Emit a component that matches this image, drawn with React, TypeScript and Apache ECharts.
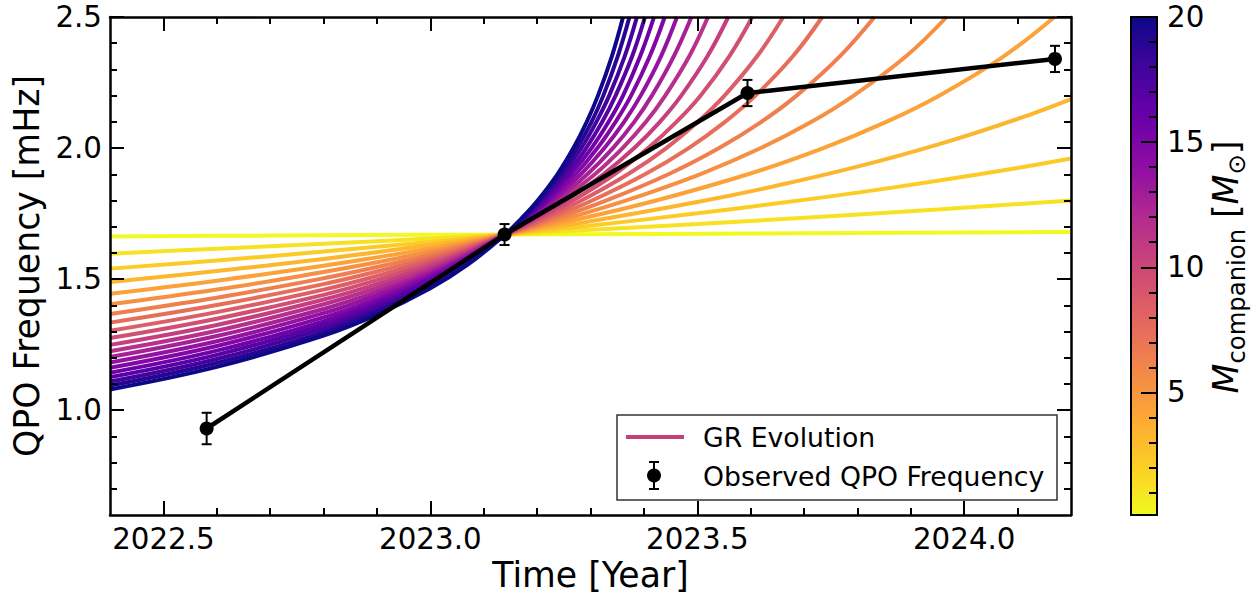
import React, { useEffect, useRef } from "react";
import * as echarts from "echarts";

// ---------------- DATA ----------------
// Observed QPO frequency
const obsTime = [2022.581, 2023.139, 2023.594, 2024.17];
const obsFreq = [0.93, 1.67, 2.21, 2.34];
const obsErr = [0.06, 0.04, 0.05, 0.05];

// Companion masses of the GR evolution curves [M_sun]
const companionMass = [
  0.1, 1.15, 2.19, 3.24, 4.29, 5.34, 6.38, 7.43, 8.48, 9.53, 10.57, 11.62,
  12.67, 13.72, 14.76, 15.81, 16.86, 17.91, 18.95, 20,
];

// GR evolution curves, [time, frequency] (one list per mass)
const grCurves: number[][][] = [
  [[2022.4, 1.663], [2022.6, 1.665], [2022.8, 1.667], [2023.0, 1.669], [2023.14, 1.67], [2023.7, 1.675], [2024.2, 1.68]],
  [[2022.4, 1.597], [2022.6, 1.616], [2022.8, 1.635], [2023.0, 1.655], [2023.14, 1.67], [2023.3, 1.688], [2023.5, 1.71], [2023.7, 1.734], [2023.95, 1.766], [2024.2, 1.8]],
  [[2022.4, 1.54], [2022.6, 1.571], [2022.8, 1.605], [2023.0, 1.642], [2023.14, 1.67], [2023.3, 1.704], [2023.5, 1.751], [2023.65, 1.789], [2023.8, 1.83], [2023.95, 1.875], [2024.1, 1.924], [2024.2, 1.96]],
  [[2022.4, 1.489], [2022.6, 1.531], [2022.8, 1.577], [2023.0, 1.63], [2023.14, 1.67], [2023.3, 1.721], [2023.5, 1.794], [2023.65, 1.857], [2023.8, 1.929], [2023.95, 2.013], [2024.1, 2.111], [2024.2, 2.187]],
  [[2022.4, 1.444], [2022.6, 1.494], [2022.8, 1.551], [2022.9, 1.583], [2023.0, 1.617], [2023.07, 1.643], [2023.14, 1.67], [2023.28, 1.73], [2023.423, 1.8], [2023.595, 1.9], [2023.736, 2.0], [2023.854, 2.1], [2023.953, 2.2], [2024.074, 2.35], [2024.169, 2.5]],
  [[2022.4, 1.404], [2022.6, 1.46], [2022.8, 1.527], [2022.9, 1.564], [2023.0, 1.605], [2023.07, 1.636], [2023.14, 1.67], [2023.253, 1.73], [2023.367, 1.8], [2023.505, 1.9], [2023.619, 2.0], [2023.714, 2.1], [2023.793, 2.2], [2023.891, 2.35], [2023.967, 2.5]],
  [[2022.4, 1.367], [2022.6, 1.429], [2022.8, 1.503], [2022.9, 1.546], [2023.0, 1.593], [2023.07, 1.63], [2023.14, 1.67], [2023.234, 1.73], [2023.33, 1.8], [2023.446, 1.9], [2023.541, 2.0], [2023.62, 2.1], [2023.686, 2.2], [2023.767, 2.35], [2023.832, 2.5]],
  [[2022.4, 1.334], [2022.6, 1.401], [2022.8, 1.481], [2022.9, 1.529], [2023.0, 1.582], [2023.07, 1.624], [2023.14, 1.67], [2023.221, 1.73], [2023.303, 1.8], [2023.402, 1.9], [2023.484, 2.0], [2023.552, 2.1], [2023.609, 2.2], [2023.679, 2.35], [2023.734, 2.5]],
  [[2022.4, 1.303], [2022.6, 1.374], [2022.8, 1.46], [2022.9, 1.512], [2023.0, 1.571], [2023.07, 1.618], [2023.14, 1.67], [2023.211, 1.73], [2023.283, 1.8], [2023.37, 1.9], [2023.442, 2.0], [2023.501, 2.1], [2023.551, 2.2], [2023.612, 2.35], [2023.661, 2.5]],
  [[2022.4, 1.275], [2022.6, 1.349], [2022.8, 1.44], [2022.9, 1.496], [2023.0, 1.56], [2023.07, 1.612], [2023.14, 1.67], [2023.203, 1.73], [2023.267, 1.8], [2023.345, 1.9], [2023.408, 2.0], [2023.461, 2.1], [2023.506, 2.2], [2023.56, 2.35], [2023.603, 2.5]],
  [[2022.4, 1.249], [2022.6, 1.325], [2022.8, 1.422], [2022.9, 1.481], [2023.0, 1.55], [2023.07, 1.606], [2023.14, 1.67], [2023.197, 1.73], [2023.255, 1.8], [2023.324, 1.9], [2023.382, 2.0], [2023.43, 2.1], [2023.47, 2.2], [2023.519, 2.35], [2023.558, 2.5]],
  [[2022.4, 1.225], [2022.6, 1.303], [2022.8, 1.404], [2022.9, 1.466], [2023.0, 1.539], [2023.07, 1.6], [2023.14, 1.67], [2023.192, 1.73], [2023.244, 1.8], [2023.308, 1.9], [2023.36, 2.0], [2023.404, 2.1], [2023.44, 2.2], [2023.485, 2.35], [2023.52, 2.5]],
  [[2022.4, 1.203], [2022.6, 1.283], [2022.8, 1.386], [2022.9, 1.451], [2023.0, 1.529], [2023.07, 1.594], [2023.14, 1.67], [2023.188, 1.73], [2023.236, 1.8], [2023.294, 1.9], [2023.342, 2.0], [2023.382, 2.1], [2023.415, 2.2], [2023.456, 2.35], [2023.489, 2.5]],
  [[2022.4, 1.182], [2022.6, 1.263], [2022.8, 1.37], [2022.9, 1.438], [2023.0, 1.519], [2023.07, 1.588], [2023.14, 1.67], [2023.184, 1.73], [2023.229, 1.8], [2023.282, 1.9], [2023.326, 2.0], [2023.363, 2.1], [2023.394, 2.2], [2023.432, 2.35], [2023.462, 2.5]],
  [[2022.4, 1.162], [2022.6, 1.245], [2022.8, 1.354], [2022.9, 1.424], [2023.0, 1.51], [2023.07, 1.583], [2023.14, 1.67], [2023.181, 1.73], [2023.222, 1.8], [2023.272, 1.9], [2023.313, 2.0], [2023.347, 2.1], [2023.376, 2.2], [2023.411, 2.35], [2023.439, 2.5]],
  [[2022.4, 1.143], [2022.6, 1.227], [2022.8, 1.339], [2022.9, 1.411], [2023.0, 1.501], [2023.07, 1.577], [2023.14, 1.67], [2023.178, 1.73], [2023.217, 1.8], [2023.263, 1.9], [2023.302, 2.0], [2023.334, 2.1], [2023.361, 2.2], [2023.393, 2.35], [2023.419, 2.5]],
  [[2022.4, 1.126], [2022.6, 1.211], [2022.8, 1.325], [2022.9, 1.399], [2023.0, 1.491], [2023.07, 1.571], [2023.14, 1.67], [2023.176, 1.73], [2023.212, 1.8], [2023.256, 1.9], [2023.292, 2.0], [2023.322, 2.1], [2023.347, 2.2], [2023.378, 2.35], [2023.402, 2.5]],
  [[2022.4, 1.109], [2022.6, 1.195], [2022.8, 1.311], [2022.9, 1.387], [2023.0, 1.482], [2023.07, 1.566], [2023.14, 1.67], [2023.174, 1.73], [2023.208, 1.8], [2023.249, 1.9], [2023.283, 2.0], [2023.311, 2.1], [2023.335, 2.2], [2023.364, 2.35], [2023.387, 2.5]],
  [[2022.4, 1.094], [2022.6, 1.18], [2022.8, 1.297], [2022.9, 1.375], [2023.0, 1.474], [2023.07, 1.561], [2023.14, 1.67], [2023.172, 1.73], [2023.204, 1.8], [2023.243, 1.9], [2023.275, 2.0], [2023.302, 2.1], [2023.324, 2.2], [2023.351, 2.35], [2023.373, 2.5]],
  [[2022.4, 1.079], [2022.6, 1.165], [2022.8, 1.284], [2022.9, 1.364], [2023.0, 1.465], [2023.07, 1.555], [2023.14, 1.67], [2023.17, 1.73], [2023.201, 1.8], [2023.238, 1.9], [2023.268, 2.0], [2023.293, 2.1], [2023.314, 2.2], [2023.34, 2.35], [2023.361, 2.5]],
];

// Axis ticks
const xMajorTicks = [2022.5, 2023.0, 2023.5, 2024.0];
const xMinorTicks = [2022.6, 2022.7, 2022.8, 2022.9, 2023.1, 2023.2, 2023.3, 2023.4, 2023.6, 2023.7, 2023.8, 2023.9, 2024.1];
const yMajorTicks = [1.0, 1.5, 2.0, 2.5];
const yMinorTicks = [0.7, 0.8, 0.9, 1.1, 1.2, 1.3, 1.4, 1.6, 1.7, 1.8, 1.9, 2.1, 2.2, 2.3, 2.4];
const cbMajorTicks = [5, 10, 15, 20];
const cbMinorTicks = [1, 2, 3, 4, 6, 7, 8, 9, 11, 12, 13, 14, 16, 17, 18, 19];

const xRange = [2022.4, 2024.2];
const yRange = [0.6, 2.5];
const massRange = [0.1, 20];

// ---------------- STYLE ----------------
const FONT = "DejaVu Sans";
const plasmaStops = [
  "#0d0887", "#41049d", "#6a00a8", "#8f0da4", "#b12a90", "#cc4778",
  "#e16462", "#f2844b", "#fca636", "#fcce25", "#f0f921",
];

function hexToRgb(h: string) {
  const n = parseInt(h.slice(1), 16);
  return [(n >> 16) & 255, (n >> 8) & 255, n & 255];
}
function plasma(t: number) {
  const c = Math.max(0, Math.min(1, t)) * (plasmaStops.length - 1);
  const i = Math.min(plasmaStops.length - 2, Math.floor(c));
  const f = c - i;
  const a = hexToRgb(plasmaStops[i]);
  const b = hexToRgb(plasmaStops[i + 1]);
  const r = a.map((v, k) => Math.round(v + (b[k] - v) * f));
  return `rgb(${r[0]},${r[1]},${r[2]})`;
}
function massColor(m: number) {
  return plasma(1 - (m - massRange[0]) / (massRange[1] - massRange[0]));
}

const tickLine = { color: "#000", width: 2 };
const spine = { show: true, lineStyle: { color: "#000", width: 2.5 } };
const noSpine = { show: false };
const fmt1 = (v: number) => v.toFixed(1);

export default function App() {
  const ref = useRef<HTMLDivElement>(null);

  useEffect(() => {
    if (!ref.current) return;
    const chart = echarts.init(ref.current, undefined, { renderer: "svg" });

    const curveSeries = grCurves.map((pts, i) => ({
      type: "line",
      name: "GR Evolution",
      xAxisIndex: 0,
      yAxisIndex: 0,
      data: pts,
      symbol: "none",
      smooth: 0.4,
      lineStyle: { color: massColor(companionMass[i]), width: 4 },
      silent: true,
      z: 2,
    }));

    const axisBase = (grid: number, min: number, max: number) => ({
      gridIndex: grid,
      type: "value",
      min,
      max,
      splitLine: { show: false },
      z: 10,
    });

    const option: any = {
      animation: false,
      backgroundColor: "#fff",
      grid: [
        { left: 110, top: 17, width: 961, height: 498, outerBoundsMode: "none" },
        { left: 1131, top: 17, width: 26, height: 498, outerBoundsMode: "none" },
      ],
      xAxis: [
        {
          ...axisBase(0, xRange[0], xRange[1]),
          position: "bottom",
          axisLine: spine,
          axisTick: { show: true, inside: true, length: 14, lineStyle: tickLine, customValues: xMajorTicks },
          axisLabel: {
            customValues: xMajorTicks,
            formatter: fmt1,
            fontSize: 29.3,
            fontFamily: FONT,
            color: "#000",
            margin: 9,
          },
          name: "Time [Year]",
          nameLocation: "middle",
          nameGap: 38,
          nameTextStyle: { fontSize: 34.7, fontFamily: FONT, color: "#000", verticalAlign: "top" },
        },
        {
          ...axisBase(0, xRange[0], xRange[1]),
          position: "bottom",
          axisLine: noSpine,
          axisTick: { show: true, inside: true, length: 7, lineStyle: tickLine, customValues: xMinorTicks },
          axisLabel: { show: false },
        },
        {
          ...axisBase(0, xRange[0], xRange[1]),
          position: "top",
          axisLine: spine,
          axisTick: { show: true, inside: true, length: 14, lineStyle: tickLine, customValues: xMajorTicks },
          axisLabel: { show: false },
        },
        {
          ...axisBase(0, xRange[0], xRange[1]),
          position: "top",
          axisLine: noSpine,
          axisTick: { show: true, inside: true, length: 7, lineStyle: tickLine, customValues: xMinorTicks },
          axisLabel: { show: false },
        },
        {
          gridIndex: 1,
          type: "category",
          data: ["M"],
          position: "bottom",
          axisLine: { show: true, lineStyle: { color: "#000", width: 2 } },
          axisTick: { show: false },
          axisLabel: { show: false },
          z: 10,
        },
        {
          gridIndex: 1,
          type: "category",
          data: ["M"],
          position: "top",
          axisLine: { show: true, lineStyle: { color: "#000", width: 2 } },
          axisTick: { show: false },
          axisLabel: { show: false },
          z: 10,
        },
      ],
      yAxis: [
        {
          ...axisBase(0, yRange[0], yRange[1]),
          position: "left",
          axisLine: spine,
          axisTick: { show: true, inside: true, length: 14, lineStyle: tickLine, customValues: yMajorTicks },
          axisLabel: {
            customValues: yMajorTicks,
            formatter: fmt1,
            fontSize: 29.3,
            fontFamily: FONT,
            color: "#000",
            margin: 8,
          },
          name: "QPO Frequency [mHz]",
          nameLocation: "middle",
          nameGap: 58,
          nameRotate: 90,
          nameTextStyle: { fontSize: 34.7, fontFamily: FONT, color: "#000" },
        },
        {
          ...axisBase(0, yRange[0], yRange[1]),
          position: "left",
          axisLine: noSpine,
          axisTick: { show: true, inside: true, length: 7, lineStyle: tickLine, customValues: yMinorTicks },
          axisLabel: { show: false },
        },
        {
          ...axisBase(0, yRange[0], yRange[1]),
          position: "right",
          axisLine: spine,
          axisTick: { show: true, inside: true, length: 14, lineStyle: tickLine, customValues: yMajorTicks },
          axisLabel: { show: false },
        },
        {
          ...axisBase(0, yRange[0], yRange[1]),
          position: "right",
          axisLine: noSpine,
          axisTick: { show: true, inside: true, length: 7, lineStyle: tickLine, customValues: yMinorTicks },
          axisLabel: { show: false },
        },
        {
          ...axisBase(1, massRange[0], massRange[1]),
          position: "right",
          axisLine: { show: true, lineStyle: { color: "#000", width: 2 } },
          axisTick: { show: true, inside: true, length: 16, lineStyle: tickLine, customValues: cbMajorTicks },
          axisLabel: {
            customValues: cbMajorTicks,
            fontSize: 29.3,
            fontFamily: FONT,
            color: "#000",
            margin: 10,
          },
        },
        {
          ...axisBase(1, massRange[0], massRange[1]),
          position: "right",
          axisLine: noSpine,
          axisTick: { show: true, inside: true, length: 8, lineStyle: tickLine, customValues: cbMinorTicks },
          axisLabel: { show: false },
        },
        {
          ...axisBase(1, massRange[0], massRange[1]),
          position: "left",
          axisLine: { show: true, lineStyle: { color: "#000", width: 2 } },
          axisTick: { show: false },
          axisLabel: { show: false },
        },
      ],
      series: [
        ...curveSeries,
        {
          type: "line",
          name: "Observed QPO Frequency",
          xAxisIndex: 0,
          yAxisIndex: 0,
          data: obsTime.map((t, i) => [t, obsFreq[i]]),
          symbol: "circle",
          symbolSize: 14,
          lineStyle: { color: "#000", width: 4.5 },
          itemStyle: { color: "#000" },
          silent: true,
          z: 5,
        },
        {
          type: "custom",
          name: "Observed QPO Frequency error",
          xAxisIndex: 0,
          yAxisIndex: 0,
          data: obsTime.map((t, i) => [t, obsFreq[i], obsErr[i]]),
          encode: { x: 0, y: 1 },
          silent: true,
          z: 6,
          renderItem: (params: any, api: any) => {
            const x = api.value(0);
            const y = api.value(1);
            const e = api.value(2);
            const top = api.coord([x, y + e]);
            const bot = api.coord([x, y - e]);
            const hw = 5;
            const st = { stroke: "#000", lineWidth: 2 };
            return {
              type: "group",
              children: [
                { type: "line", shape: { x1: top[0], y1: top[1], x2: bot[0], y2: bot[1] }, style: st },
                { type: "line", shape: { x1: top[0] - hw, y1: top[1], x2: top[0] + hw, y2: top[1] }, style: st },
                { type: "line", shape: { x1: bot[0] - hw, y1: bot[1], x2: bot[0] + hw, y2: bot[1] }, style: st },
              ],
            };
          },
        },
        {
          type: "bar",
          name: "colorbar",
          xAxisIndex: 4,
          yAxisIndex: 4,
          data: [massRange[1]],
          barWidth: "100%",
          silent: true,
          itemStyle: {
            color: new echarts.graphic.LinearGradient(
              0, 0, 0, 1,
              plasmaStops.map((c, i) => ({ offset: i / (plasmaStops.length - 1), color: c }))
            ),
          },
          z: 2,
        },
      ],
      graphic: [
        // legend
        {
          type: "rect",
          z: 50,
          shape: { x: 617, y: 415, width: 440, height: 85 },
          style: { fill: "#fff", stroke: "#333", lineWidth: 1.5 },
        },
        {
          type: "line",
          z: 51,
          shape: { x1: 626, y1: 437, x2: 684, y2: 437 },
          style: { stroke: massColor(10.57), lineWidth: 4 },
        },
        {
          type: "text",
          z: 51,
          x: 703,
          y: 437,
          style: { text: "GR Evolution", fontSize: 26.7, fontFamily: FONT, fill: "#000", verticalAlign: "middle" },
        },
        {
          type: "line",
          z: 51,
          shape: { x1: 654, y1: 462, x2: 654, y2: 489 },
          style: { stroke: "#000", lineWidth: 2 },
        },
        {
          type: "line",
          z: 51,
          shape: { x1: 649, y1: 462, x2: 659, y2: 462 },
          style: { stroke: "#000", lineWidth: 2 },
        },
        {
          type: "line",
          z: 51,
          shape: { x1: 649, y1: 489, x2: 659, y2: 489 },
          style: { stroke: "#000", lineWidth: 2 },
        },
        {
          type: "circle",
          z: 51,
          shape: { cx: 654, cy: 475.5, r: 7 },
          style: { fill: "#000" },
        },
        {
          type: "text",
          z: 51,
          x: 703,
          y: 476,
          style: {
            text: "Observed QPO Frequency",
            fontSize: 26.7,
            fontFamily: FONT,
            fill: "#000",
            verticalAlign: "middle",
          },
        },
        // colorbar label
        {
          type: "text",
          z: 51,
          x: 1226,
          y: 267,
          rotation: Math.PI / 2,
          style: {
            text: "{a|M}{b|companion}{c| [}{a|M}{d|⊙}{c|]}",
            align: "center",
            verticalAlign: "middle",
            fill: "#000",
            rich: {
              a: { fontSize: 34.7, fontFamily: FONT, fontStyle: "italic", lineHeight: 44, fill: "#000" },
              b: { fontSize: 24.3, fontFamily: FONT, lineHeight: 24, verticalAlign: "bottom", fill: "#000" },
              c: { fontSize: 34.7, fontFamily: FONT, lineHeight: 44, fill: "#000" },
              d: { fontSize: 24.3, fontFamily: FONT, lineHeight: 24, verticalAlign: "bottom", fill: "#000" },
            },
          },
        },
      ],
    };

    chart.setOption(option);
    return () => chart.dispose();
  }, []);

  return (
    <div
      ref={ref}
      style={{ position: "fixed", left: 0, top: 0, width: 1256, height: 594, background: "#fff" }}
    />
  );
}
